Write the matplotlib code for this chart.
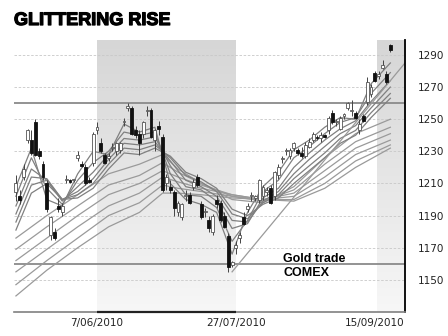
import numpy as np
import matplotlib
matplotlib.use('Agg')
import matplotlib.pyplot as plt
import matplotlib.patheffects as pe
from matplotlib.colors import LinearSegmentedColormap

# daily gold futures bars (US$/oz)
opens = [1205, 1202, 1214, 1237, 1237, 1248, 1230, 1222, 1210, 1178,
         1180, 1196, 1192, 1212, 1212, 1212, 1226, 1222, 1220, 1212,
         1223, 1243, 1235, 1228, 1226, 1232, 1230, 1231, 1248, 1257,
         1257, 1243, 1241, 1241, 1255, 1256, 1237, 1246, 1239, 1210,
         1208, 1205, 1192, 1189, 1202, 1203, 1208, 1214, 1197, 1192,
         1187, 1180, 1200, 1198, 1190, 1177, 1159, 1170, 1176, 1189,
         1194, 1202, 1201, 1200, 1202, 1205, 1207, 1202, 1215, 1225,
         1230, 1227, 1232, 1231, 1229, 1227, 1233, 1237, 1239, 1238,
         1240, 1243, 1254, 1248, 1244, 1252, 1257, 1255, 1254, 1243,
         1252, 1261, 1266, 1279, 1277, 1282, 1278, 1296]
highs = [1215, 1206, 1222, 1244, 1243, 1250, 1232, 1224, 1212, 1190,
         1182, 1201, 1198, 1215, 1213, 1213, 1230, 1224, 1222, 1214,
         1242, 1248, 1238, 1229, 1229, 1235, 1236, 1236, 1251, 1260,
         1258, 1246, 1243, 1249, 1258, 1257, 1244, 1249, 1241, 1216,
         1212, 1206, 1199, 1198, 1206, 1205, 1213, 1216, 1199, 1195,
         1190, 1191, 1203, 1200, 1192, 1179, 1162, 1174, 1180, 1192,
         1198, 1205, 1203, 1213, 1209, 1208, 1209, 1218, 1222, 1227,
         1232, 1232, 1236, 1232, 1233, 1236, 1238, 1242, 1240, 1242,
         1241, 1252, 1256, 1250, 1252, 1254, 1261, 1262, 1255, 1250,
         1253, 1276, 1272, 1280, 1280, 1287, 1280, 1297]
lows = [1199, 1197, 1212, 1235, 1228, 1227, 1225, 1212, 1192, 1175,
        1175, 1192, 1190, 1210, 1210, 1211, 1224, 1220, 1209, 1210,
        1221, 1241, 1229, 1222, 1224, 1230, 1228, 1229, 1246, 1255,
        1240, 1238, 1228, 1238, 1252, 1238, 1230, 1240, 1205, 1206,
        1204, 1190, 1190, 1187, 1199, 1197, 1206, 1208, 1188, 1189,
        1180, 1178, 1195, 1186, 1182, 1155, 1158, 1166, 1173, 1184,
        1192, 1199, 1199, 1198, 1200, 1202, 1197, 1200, 1213, 1223,
        1228, 1225, 1230, 1228, 1226, 1226, 1232, 1236, 1237, 1236,
        1238, 1241, 1247, 1246, 1243, 1250, 1256, 1252, 1250, 1241,
        1248, 1259, 1264, 1273, 1275, 1281, 1272, 1292]
closes = [1210, 1200, 1219, 1243, 1229, 1228, 1227, 1214, 1194, 1189,
          1176, 1194, 1196, 1213, 1211, 1212, 1228, 1221, 1210, 1211,
          1241, 1245, 1230, 1223, 1227, 1233, 1235, 1235, 1249, 1258,
          1241, 1240, 1235, 1248, 1256, 1239, 1243, 1244, 1206, 1214,
          1206, 1195, 1198, 1197, 1203, 1198, 1211, 1209, 1189, 1193,
          1182, 1190, 1197, 1187, 1183, 1158, 1161, 1172, 1178, 1185,
          1196, 1203, 1202, 1212, 1208, 1206, 1198, 1217, 1220, 1226,
          1231, 1231, 1235, 1229, 1227, 1234, 1236, 1241, 1238, 1240,
          1239, 1251, 1248, 1249, 1251, 1253, 1260, 1256, 1251, 1247,
          1249, 1273, 1270, 1274, 1278, 1284, 1273, 1293]

# short-term moving averages (fastest first)
short_idx = [0, 4, 8, 12, 16, 20, 24, 28, 32, 36, 40, 44, 48, 52, 56, 60,
             64, 68, 72, 76, 80, 84, 88, 92, 97]
short_ma = [
    [1208, 1232, 1200, 1196, 1216, 1230, 1228, 1247, 1242, 1245, 1210, 1200,
     1197, 1192, 1166, 1192, 1208, 1217, 1231, 1237, 1245, 1251, 1250, 1272, 1285],
    [1202, 1226, 1207, 1197, 1212, 1223, 1230, 1242, 1240, 1242, 1216, 1203,
     1202, 1195, 1174, 1187, 1205, 1212, 1226, 1233, 1241, 1248, 1251, 1266, 1279],
    [1196, 1219, 1212, 1199, 1208, 1217, 1228, 1238, 1237, 1239, 1221, 1208,
     1206, 1199, 1182, 1185, 1201, 1207, 1220, 1229, 1237, 1244, 1249, 1261, 1274],
    [1191, 1214, 1213, 1200, 1205, 1213, 1225, 1235, 1234, 1236, 1224, 1212,
     1208, 1202, 1187, 1186, 1199, 1205, 1216, 1225, 1233, 1241, 1246, 1257, 1270],
    [1186, 1209, 1212, 1200, 1203, 1210, 1222, 1232, 1231, 1234, 1226, 1215,
     1211, 1205, 1191, 1188, 1198, 1203, 1213, 1221, 1229, 1238, 1243, 1254, 1266],
    [1181, 1204, 1210, 1200, 1201, 1207, 1219, 1229, 1228, 1232, 1227, 1217,
     1213, 1207, 1194, 1190, 1197, 1201, 1210, 1218, 1226, 1235, 1240, 1251, 1263],
]

# long-term moving averages (fastest first)
long_idx = [0, 8, 16, 24, 32, 38, 42, 48, 56, 64, 72, 80, 88, 97]
long_ma = [
    [1176, 1190, 1203, 1216, 1222, 1228, 1219, 1210, 1200, 1198, 1208, 1226, 1241, 1250],
    [1169, 1183, 1196, 1209, 1215, 1223, 1217, 1210, 1202, 1199, 1206, 1222, 1236, 1245],
    [1162, 1176, 1190, 1203, 1210, 1218, 1214, 1209, 1203, 1200, 1204, 1218, 1232, 1241],
    [1155, 1169, 1183, 1196, 1204, 1214, 1211, 1207, 1203, 1200, 1202, 1214, 1228, 1237],
    [1147, 1162, 1176, 1190, 1198, 1209, 1207, 1205, 1202, 1200, 1200, 1210, 1224, 1234],
    [1140, 1156, 1170, 1183, 1192, 1204, 1204, 1203, 1201, 1200, 1199, 1207, 1220, 1232],
]

# uptrend line from the July low
trend_x = [56, 100.8]
trend_y = [1155, 1285]

ref_levels = [1260, 1160]
tick_idx = [21, 57, 93]
tick_dates = ['7/06/2010', '27/07/2010', '15/09/2010']

fig = plt.figure(figsize=(4.48, 3.36), dpi=100)
ax = fig.add_axes([14 / 448, 1 - 312 / 336, 391 / 448, 272 / 336])
x0, x1 = -0.5, 100.8
y0, y1 = 1130, 1299.3

# shaded periods, darker at the top
shade = LinearSegmentedColormap.from_list('shade', ['#f7f7f7', '#e6e6e6', '#d6d6d6'])
grad = np.linspace(0, 1, 256).reshape(-1, 1)
for a, b in [(21, 57), (93.5, x1)]:
    ax.imshow(grad, extent=[a, b, y0, y1], origin='lower', aspect='auto',
              cmap=shade, zorder=0)

for v in range(1150, 1300, 20):
    ax.axhline(v, color='#c8c8c8', lw=0.6, ls=(0, (3, 2)), zorder=1)
for v in ref_levels:
    ax.axhline(v, color='#8a8a8a', lw=1.3, zorder=1)

for vals in long_ma:
    ax.plot(long_idx, vals, color='#9a9a9a', lw=0.9, zorder=2)
for vals in short_ma:
    ax.plot(short_idx, vals, color='#808080', lw=0.9, zorder=2)
ax.plot(trend_x, trend_y, color='#9a9a9a', lw=0.9, zorder=2)

o = np.array(opens, float)
c = np.array(closes, float)
h = np.array(highs, float)
l = np.array(lows, float)
xs = np.arange(len(c))
up = c >= o
body_lo = np.minimum(o, c)
body_h = np.maximum(np.abs(c - o), 0.9)

ax.vlines(xs, l, h, color='#444444', lw=0.7, zorder=3)
ax.bar(xs[up], body_h[up], bottom=body_lo[up], width=0.75,
       facecolor='white', edgecolor='#555555', lw=0.6, zorder=4)
ax.bar(xs[~up], body_h[~up], bottom=body_lo[~up], width=0.75,
       facecolor='#111111', edgecolor='#111111', lw=0.6, zorder=4)

ax.text(69.2, 1161.3, 'Gold trade', fontsize=9, fontweight='bold',
        family='Liberation Sans', va='baseline', ha='left', zorder=5)
ax.text(69.2, 1157.8, 'COMEX', fontsize=9, fontweight='bold',
        family='Liberation Sans', va='top', ha='left', zorder=5)

ax.set_xlim(x0, x1)
ax.set_ylim(y0, y1)
ax.yaxis.tick_right()
ax.set_yticks(range(1150, 1300, 20))
ax.set_xticks(tick_idx)
ax.set_xticklabels(tick_dates)
ax.tick_params(axis='y', length=0, pad=9, labelsize=7.5, labelcolor='#222222')
ax.tick_params(axis='x', length=0, pad=4, labelsize=7.5, labelcolor='#222222')

for s in ['top', 'left']:
    ax.spines[s].set_visible(False)
ax.spines['right'].set_color('black')
ax.spines['right'].set_linewidth(1.3)
ax.spines['bottom'].set_color('#808080')
ax.spines['bottom'].set_linewidth(1.2)
ax.hlines(y0, 21, 57, color='#222222', lw=1.6, clip_on=False, zorder=6)

fig.text(14 / 448, 1 - 25 / 336, 'GLITTERING RISE', fontsize=13,
         fontweight='bold', family='Liberation Sans', va='baseline',
         path_effects=[pe.withStroke(linewidth=0.9, foreground='black')])

fig.savefig('out.png', dpi=100)
